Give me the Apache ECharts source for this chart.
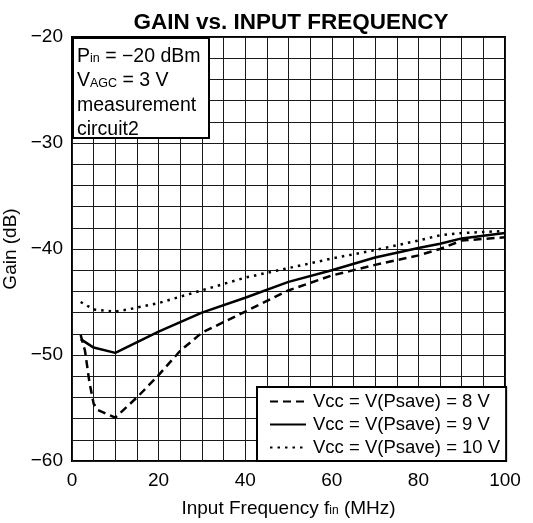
<!DOCTYPE html>
<html>
<head>
<meta charset="utf-8">
<script src="https://cdn.jsdelivr.net/npm/echarts@6/dist/echarts.min.js"></script>
<style>html,body{margin:0;padding:0;background:#fff}#c{width:533px;height:523px}</style>
</head>
<body>
<div id="c"></div>
<script>
var seriesNames = ['Vcc = V(Psave) = 8 V', 'Vcc = V(Psave) = 9 V', 'Vcc = V(Psave) = 10 V'];
var freq8 = [2, 3, 4, 5, 6, 10, 15, 20, 25, 30, 40, 50, 60, 70, 80, 85, 90, 100];
var gain8 = [-48.1, -49.6, -52.5, -54.6, -55.2, -55.9, -54.0, -51.9, -49.6, -47.9, -45.9, -43.9, -42.5, -41.5, -40.6, -40.0, -39.2, -38.9];
var freq9 = [2, 5, 10, 20, 30, 40, 50, 60, 70, 80, 85, 90, 100];
var gain9 = [-48.5, -49.3, -49.8, -47.8, -46.0, -44.6, -43.1, -42.0, -40.8, -39.9, -39.5, -39.0, -38.5];
var freq10 = [2, 5, 10, 13, 20, 30, 40, 50, 60, 70, 80, 85, 90, 100];
var gain10 = [-45.0, -45.7, -45.9, -45.7, -45.1, -43.9, -42.7, -41.8, -40.9, -40.1, -39.2, -38.7, -38.5, -38.3];
var xTickLabels = [0, 20, 40, 60, 80, 100];
var yTickLabels = [-60, -50, -40, -30, -20];

function pairs(xs, ys) { return xs.map(function (x, i) { return [x, ys[i]]; }); }

var FONT = 'Liberation Sans, Arial, sans-serif';
var chart = echarts.init(document.getElementById('c'));
chart.setOption({
  backgroundColor: '#fff',
  animation: false,
  textStyle: { fontFamily: FONT, color: '#000' },
  title: {
    text: 'GAIN vs. INPUT FREQUENCY',
    left: 286, top: 6, textAlign: 'center',
    textStyle: { fontFamily: FONT, fontSize: 22.5, fontWeight: 'bold', color: '#000' }
  },
  grid: { left: 72, right: 28, top: 37, bottom: 62, show: true, borderColor: '#000', borderWidth: 2,
    backgroundColor: 'transparent', containLabel: false, outerBoundsMode: 'none' },
  xAxis: {
    type: 'value', min: 0, max: 100, interval: 5,
    name: 'Input Frequency f{sub|in} (MHz)', nameLocation: 'middle', nameGap: 38,
    nameTextStyle: { fontFamily: FONT, fontSize: 19, color: '#000',
      rich: { sub: { fontFamily: FONT, fontSize: 12, color: '#000', padding: [5, 0, 0, 0] } } },
    axisLine: { show: false }, axisTick: { show: false },
    axisLabel: { margin: 10, fontFamily: FONT, fontSize: 19, color: '#000',
      formatter: function (v) { return xTickLabels.indexOf(v) >= 0 ? String(v) : ''; } },
    splitLine: { show: true, lineStyle: { color: '#1a1a1a', width: 1 } }
  },
  yAxis: {
    type: 'value', min: -60, max: -20, interval: 2,
    name: 'Gain (dB)', nameLocation: 'middle', nameGap: 38, nameRotate: 90,
    nameTextStyle: { fontFamily: FONT, fontSize: 19, color: '#000' },
    axisLine: { show: false }, axisTick: { show: false },
    axisLabel: { margin: 9, fontFamily: FONT, fontSize: 19, color: '#000',
      formatter: function (v) { return yTickLabels.indexOf(v) >= 0 ? String(v).replace('-', '\u2212') : ''; } },
    splitLine: { show: true, lineStyle: { color: '#1a1a1a', width: 1 } }
  },
  legend: {
    orient: 'vertical', left: 257, top: 387, right: 28,
    data: seriesNames,
    backgroundColor: '#fff', borderColor: '#000', borderWidth: 2, borderRadius: 0,
    padding: [5, 6, 4, 12], itemGap: 4, itemWidth: 36, itemHeight: 14,
    itemStyle: { opacity: 0, borderWidth: 0 },
    textStyle: { fontFamily: FONT, fontSize: 18.5, color: '#000', padding: [0, 0, 0, 2] }
  },
  series: [
    { name: seriesNames[0], type: 'line', symbol: 'none', data: pairs(freq8, gain8), z: 3,
      lineStyle: { color: '#000', width: 2.5, type: [8, 5] }, itemStyle: { color: '#000' } },
    { name: seriesNames[1], type: 'line', symbol: 'none', data: pairs(freq9, gain9), z: 3,
      lineStyle: { color: '#000', width: 2.5, type: 'solid' }, itemStyle: { color: '#000' } },
    { name: seriesNames[2], type: 'line', symbol: 'none', data: pairs(freq10, gain10), z: 3,
      lineStyle: { color: '#000', width: 2.5, type: [2.5, 5] }, itemStyle: { color: '#000' } }
  ],
  graphic: [
    { type: 'rect', z: 100, left: 72, top: 37,
      shape: { x: 0, y: 0, width: 136, height: 100 }, style: { fill: '#fff', stroke: '#000', lineWidth: 2 } },
    { type: 'text', z: 101, left: 77, top: 44,
      style: {
        text: 'P{sub|in} = \u221220 dBm\nV{sub|AGC} = 3 V\nmeasurement\ncircuit2',
        fontFamily: FONT, fontSize: 19.5, lineHeight: 24.5, fill: '#000',
        rich: { sub: { fontFamily: FONT, fontSize: 12.5, fill: '#000', padding: [5, 0, 0, 0] } }
      } }
  ]
});
</script>
</body>
</html>
